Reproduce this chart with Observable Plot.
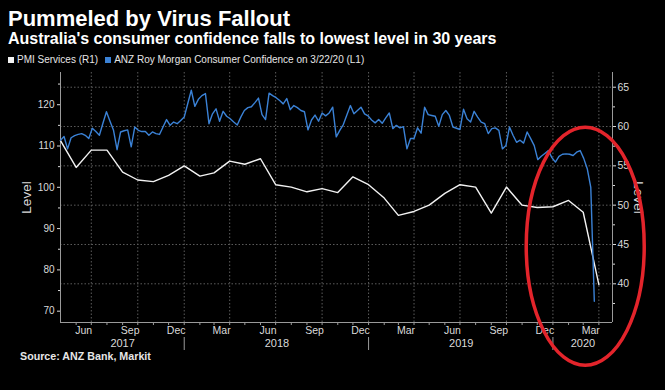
<!DOCTYPE html>
<html>
<head>
<meta charset="utf-8">
<script src="https://cdn.jsdelivr.net/npm/d3@7"></script>
<script src="https://cdn.jsdelivr.net/npm/@observablehq/plot@0.6"></script>
<style>
  html, body { margin: 0; padding: 0; background: #000; }
  #wrap { position: relative; width: 665px; height: 390px; overflow: hidden; background: #000;
          font-family: "Liberation Sans", Arial, sans-serif; }
  #chart { position: absolute; left: 0; top: 0; }
  .title { position: absolute; left: 8px; top: 8px; color: #fff; font-weight: bold; font-size: 22px; line-height: 22px; white-space: nowrap; }
  .subtitle { position: absolute; left: 8px; top: 31px; color: #fff; font-weight: bold; font-size: 16px; line-height: 16px; white-space: nowrap; }
  .legend { position: absolute; left: 8px; top: 55px; color: #e6e6e6; font-size: 10px; line-height: 10px; white-space: nowrap; }
  .legend .sw { display: inline-block; width: 6px; height: 6px; margin-right: 3px; vertical-align: 0px; }
  .source { position: absolute; left: 20px; top: 351px; color: #e6e6e6; font-weight: bold; font-size: 10.7px; line-height: 11px; white-space: nowrap; }
</style>
</head>
<body>
<div id="wrap">
  <div id="chart"></div>
  <div class="title">Pummeled by Virus Fallout</div>
  <div class="subtitle">Australia's consumer confidence falls to lowest level in 30 years</div>
  <div class="legend" id="legend"></div>
  <div class="source">Source: ANZ Bank, Markit</div>
</div>
<script>
// ---------------- data ----------------
// ANZ Roy Morgan Consumer Confidence, weekly, first week 2017-04-30 (left axis, L1)
const anzStart = "2017-04-30";
const anzValues = [
  111.4, 112.3, 109.3, 112.0, 112.5, 112.8, 113.0, 112.6, 111.8, 114.3,
  113.5, 112.6, 115.5, 118.3, 116.0, 113.8, 109.1, 113.4, 113.7, 113.9,
  109.8, 114.6, 113.8, 113.5, 113.5, 112.6, 113.4, 113.0, 112.8, 114.6,
  116.4, 115.0, 115.8, 115.4, 116.2, 117.0, 120.3, 123.5, 119.6, 121.3,
  122.2, 122.7, 115.4, 117.8, 119.0, 116.0, 118.4, 117.2, 116.6, 115.8,
  115.1, 117.0, 118.6, 119.3, 119.5, 120.5, 121.6, 117.6, 116.4, 122.8,
  122.2, 121.7, 121.0, 120.2, 121.5, 118.8, 119.8, 119.3, 118.6, 118.3,
  113.9, 116.3, 117.5, 116.0, 118.0, 117.3, 118.0, 119.4, 112.2, 113.8,
  115.2, 117.5, 119.8, 117.8, 118.6, 119.4, 117.8, 117.3, 116.3, 115.6,
  116.4, 115.5, 116.8, 118.0, 114.2, 115.0, 114.4, 114.7, 109.3, 111.8,
  111.8, 114.4, 113.1, 119.4, 117.6, 117.4, 117.2, 114.8, 117.6, 118.6,
  117.4, 114.6, 114.3, 114.0, 118.9, 116.6, 115.8, 118.4, 117.0, 115.8,
  115.4, 113.0, 114.2, 114.4, 113.8, 109.3, 110.1, 114.6, 112.6, 110.9,
  111.4, 110.7, 113.4, 111.8, 110.1, 106.7, 107.5, 108.2, 108.9, 107.2,
  106.1, 107.5, 108.0, 108.1, 108.0, 107.7, 108.5, 108.9, 107.0, 104.5,
  100.0, 72.4
];

// PMI Services, monthly (right axis, R1)
const pmiMonths = [
  "2017-04","2017-05","2017-06","2017-07","2017-08","2017-09","2017-10","2017-11","2017-12",
  "2018-01","2018-02","2018-03","2018-04","2018-05","2018-06","2018-07","2018-08","2018-09",
  "2018-10","2018-11","2018-12","2019-01","2019-02","2019-03","2019-04","2019-05","2019-06",
  "2019-07","2019-08","2019-09","2019-10","2019-11","2019-12","2020-01","2020-02","2020-03"
];
const pmiValues = [
  58.2, 54.8, 57.0, 57.0, 54.2, 53.2, 53.0, 53.8, 55.0,
  53.7, 54.1, 55.6, 55.2, 55.9, 52.6, 52.3, 51.7, 52.1,
  51.6, 53.6, 52.6, 50.9, 48.7, 49.2, 50.0, 51.5, 52.6,
  52.3, 49.0, 52.3, 50.0, 49.7, 49.8, 50.6, 49.1, 39.9
];

// axes
const xDomain = ["2017-04-30", "2020-04-27"];
const leftDomain = [67.26, 127.8];
const rightDomain = [35.08, 66.87];
const leftTicks = [70, 80, 90, 100, 110, 120];
const leftMinorTicks = [75, 85, 95, 105, 115, 125];
const rightTicks = [40, 45, 50, 55, 60, 65];
const rightMinorTicks = [37.5, 42.5, 47.5, 52.5, 57.5, 62.5];
const monthTickLabels = ["2017-06","2017-09","2017-12","2018-03","2018-06","2018-09",
                         "2018-12","2019-03","2019-06","2019-09","2019-12","2020-03"];
const yearLabels = ["2017", "2018", "2019", "2020"];
const axisTitle = "Level";

const seriesNames = ["PMI Services (R1)", "ANZ Roy Morgan Consumer Confidence on 3/22/20 (L1)"];
const seriesColors = ["#f2f2f2", "#3b82d6"];

// ---------------- build ----------------
const parse = d3.utcParse("%Y-%m-%d");
const parseM = d3.utcParse("%Y-%m");
const monthEnd = m => d3.utcDay.offset(d3.utcMonth.offset(parseM(m), 1), -1);

const x0 = parse(xDomain[0]), x1 = parse(xDomain[1]);
const toLeft = d3.scaleLinear().domain(rightDomain).range(leftDomain);

const anz = anzValues.map((v, i) => ({date: d3.utcDay.offset(parse(anzStart), 7 * i), value: v}));
const pmi = pmiValues.map((v, i) => ({date: monthEnd(pmiMonths[i]), value: toLeft(v)}));

// quarter-end gridlines and month-end ticks
const allMonthEnds = d3.utcMonth.range(d3.utcMonth.floor(x0), x1).map(d => d3.utcDay.offset(d3.utcMonth.offset(d, 1), -1))
  .filter(d => d > x0 && d < x1);
const quarterEnds = monthTickLabels.map(monthEnd);
const monthLabelDates = monthTickLabels.map(m => d3.utcDay.offset(parseM(m), 14));
const yearEnds = quarterEnds.filter(d => d.getUTCMonth() === 11);
const yearCenters = yearLabels.map(y => {
  const a = d3.max([x0, parseM(y + "-01")]);
  const b = d3.min([x1, parseM((+y + 1) + "-01")]);
  return {date: new Date((+a + +b) / 2), label: y};
});

const grey = "#9a9a9a";
const grid = "#5c5c5c";

const plot = Plot.plot({
  width: 665,
  height: 390,
  marginTop: 72,
  marginBottom: 68,
  marginLeft: 60,
  marginRight: 53,
  style: {background: "transparent", color: "#dadada", fontFamily: "'Liberation Sans', Arial, sans-serif", fontSize: "10.5px"},
  x: {type: "utc", domain: [x0, x1]},
  y: {domain: leftDomain},
  marks: [
    Plot.gridY(rightTicks.map(toLeft), {stroke: grid, strokeOpacity: 1, strokeDasharray: "1.5,2"}),
    Plot.gridX(quarterEnds, {stroke: grid, strokeOpacity: 1, strokeDasharray: "1.5,2"}),
    // axis lines
    Plot.ruleX([x0], {stroke: grey}),
    Plot.ruleX([x1], {stroke: grey}),
    Plot.ruleY([leftDomain[0]], {stroke: grey}),
    // left axis
    Plot.axisY({anchor: "left", ticks: leftTicks, tickSize: 3, tickPadding: 3, label: null, fontSize: 10}),
    Plot.axisY({anchor: "left", ticks: leftMinorTicks, tickSize: 2, tickFormat: () => "", label: null}),
    // right axis (R1 values mapped onto the shared scale)
    Plot.axisY({anchor: "right", ticks: rightTicks.map(toLeft), tickSize: 3, tickPadding: 2, label: null, fontSize: 10.5,
                tickFormat: v => d3.format("d")(Math.round(toLeft.invert(v)))}),
    Plot.axisY({anchor: "right", ticks: rightMinorTicks.map(toLeft), tickSize: 2, tickFormat: () => "", label: null}),
    // bottom axis
    Plot.axisX({ticks: allMonthEnds, tickSize: 3, tickFormat: () => "", label: null, stroke: grey}),
    Plot.axisX({ticks: monthLabelDates, tickSize: 0, tickPadding: 4, tickFormat: "%b", label: null, fontSize: 10.5}),
    Plot.text(yearCenters, {x: "date", y: leftDomain[0], text: "label", dy: 21, fontSize: 11, fill: "#dadada"}),
    Plot.ruleX(yearEnds, {y1: leftDomain[0], y2: leftDomain[0], insetTop: 15, insetBottom: -28, stroke: grey}),
    // axis titles
    Plot.text([axisTitle], {frameAnchor: "left", dx: -34, rotate: -90, textAnchor: "middle", lineAnchor: "middle", fontSize: 13.5, fill: "#dadada"}),
    Plot.text([axisTitle], {frameAnchor: "right", dx: 26, rotate: 90, textAnchor: "middle", lineAnchor: "middle", fontSize: 13.5, fill: "#dadada"}),
    // series
    Plot.line(pmi, {x: "date", y: "value", stroke: seriesColors[0], strokeWidth: 1.4}),
    Plot.line(anz, {x: "date", y: "value", stroke: seriesColors[1], strokeWidth: 1.4})
  ]
});

// annotation: red ellipse around the recent collapse
const ring = {date: "2020-03-05", value: 85.6, rx: 59, ry: 119};
const sx = plot.scale("x"), sy = plot.scale("y");
d3.select(plot).append("ellipse")
  .attr("cx", sx.apply(parse(ring.date)))
  .attr("cy", sy.apply(ring.value))
  .attr("rx", ring.rx)
  .attr("ry", ring.ry)
  .attr("fill", "none")
  .attr("stroke", "#e3242b")
  .attr("stroke-width", 3.5);
d3.select(plot).style("overflow", "visible");

document.getElementById("chart").appendChild(plot);

// legend
const lg = d3.select("#legend");
seriesNames.forEach((n, i) => {
  lg.append("span").attr("class", "sw").style("background", seriesColors[i]).style("margin-left", i ? "7px" : "0px");
  lg.append("span").text(n);
});
</script>
</body>
</html>
